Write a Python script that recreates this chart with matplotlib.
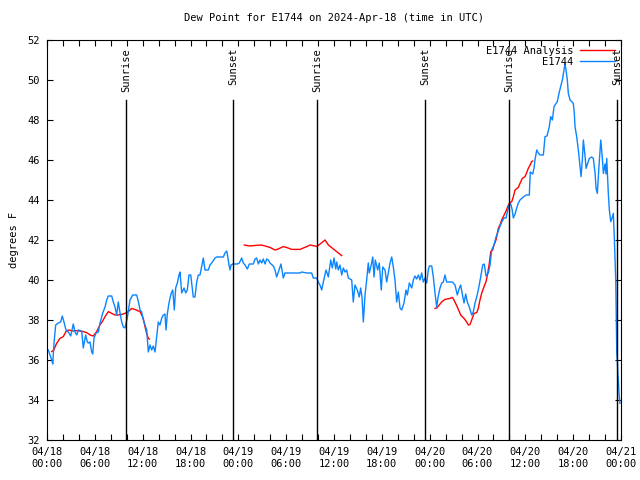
import datetime as dt
import matplotlib
matplotlib.use("Agg")
import matplotlib.pyplot as plt
import matplotlib.dates as mdates

# hours after 2024-04-18 00:00 UTC
obs_hours = [0.16, 0.38, 0.59, 0.72, 0.88, 1.09, 1.42, 1.72, 1.92, 2.13, 2.38, 2.67, 2.97, 3.30,
             3.51, 3.73, 3.93, 4.35, 4.55, 4.85, 5.06, 5.18, 5.39, 5.61, 5.73, 5.90, 6.15, 6.44,
             6.65, 6.99, 7.28, 7.49, 7.69, 8.12, 8.32, 8.53, 8.74, 8.94, 9.16, 9.37, 9.57, 9.78,
             10.07, 10.41, 10.75, 11.25, 11.50, 11.67, 11.88, 12.08, 12.29, 12.51, 12.63, 12.71,
             12.92, 13.13, 13.33, 13.55, 13.76, 13.96, 14.17, 14.39, 14.59, 14.80, 14.93, 15.09,
             15.30, 15.55, 15.77, 15.97, 16.14, 16.35, 16.56, 16.68, 16.90, 17.19, 17.40, 17.60,
             17.81, 18.03, 18.35, 18.56, 18.78, 18.98, 19.19, 19.61, 19.82, 20.23, 20.45, 20.66,
             21.07, 21.28, 22.12, 22.33, 22.54, 22.66, 22.83, 22.96, 23.08, 23.29, 23.87, 24.12,
             24.42, 24.62, 24.84, 25.13, 25.38, 25.88, 26.09, 26.30, 26.51, 26.72, 26.93, 27.13,
             27.35, 27.56, 27.76, 27.97, 28.39, 28.60, 28.81, 29.02, 29.23, 29.35, 29.52, 29.64,
             29.85, 30.27, 31.74, 31.95, 32.58, 33.20, 33.40, 33.83, 34.03, 34.24, 34.46, 34.66,
             35.00, 35.29, 35.59, 35.79, 36.00, 36.22, 36.34, 36.54, 36.75, 36.97, 37.17, 37.38,
             37.59, 37.80, 38.22, 38.42, 38.63, 38.92, 39.17, 39.34, 39.51, 39.68, 39.89, 40.10,
             40.30, 40.43, 40.64, 40.86, 41.02, 41.18, 41.48, 41.68, 41.93, 42.11, 42.40, 42.61,
             42.81, 43.03, 43.24, 43.44, 43.65, 43.86, 44.07, 44.28, 44.49, 44.78, 45.03, 45.20,
             45.45, 45.75, 45.95, 46.16, 46.37, 46.58, 46.79, 47.00, 47.20, 47.42, 47.63, 47.83,
             47.96, 48.26, 48.46, 48.67, 48.88, 49.08, 49.30, 49.51, 49.71, 49.92, 50.13, 50.55,
             50.84, 51.18, 51.47, 51.72, 51.89, 52.09, 52.31, 52.52, 52.72, 52.97, 53.27, 53.47,
             53.69, 53.90, 54.10, 54.40, 54.65, 54.85, 55.07, 55.36, 55.57, 55.78, 56.07, 56.32,
             56.48, 56.74, 57.04, 57.33, 57.58, 57.74, 57.99, 58.17, 58.33, 58.50, 58.71, 58.92,
             59.12, 59.33, 59.75, 60.09, 60.50, 60.62, 60.92, 61.09, 61.21, 61.43, 61.63, 61.84,
             62.26, 62.47, 62.72, 63.01, 63.18, 63.39, 63.60, 63.81, 64.01, 64.22, 64.44, 64.64,
             64.85, 64.97, 65.10, 65.27, 65.39, 65.61, 65.82, 66.02, 66.15, 66.23, 66.44, 66.65,
             66.86, 66.99, 67.15, 67.28, 67.49, 67.62, 67.83, 68.03, 68.33, 68.53, 68.75, 68.87,
             69.03, 69.24, 69.46, 69.66, 69.79, 70.00, 70.12, 70.21, 70.41, 70.54, 70.71, 70.88,
             71.04, 71.17, 71.34, 71.47, 71.54, 71.60, 71.67, 71.75, 71.87]
obs_dewpt = [36.5, 36.25, 36.0, 35.8, 36.85, 37.75, 37.85, 37.9, 38.2, 37.9, 37.5, 37.4, 37.2, 37.8,
             37.4, 37.25, 37.5, 37.45, 36.6, 37.25, 36.9, 36.85, 36.9, 36.4, 36.3, 37.1, 37.35, 37.4,
             37.85, 38.35, 38.65, 39.0, 39.2, 39.2, 38.9, 38.65, 38.25, 38.9, 38.35, 37.9, 37.65, 37.6,
             38.1, 39.0, 39.25, 39.25, 38.85, 38.5, 38.4, 38.0, 37.75, 37.5, 36.85, 36.4,
             36.75, 36.5, 36.7, 36.4, 37.15, 37.9, 37.75, 38.1, 38.25, 38.3, 37.5, 38.3,
             38.85, 39.3, 39.5, 38.5, 39.6, 39.85, 40.25, 40.4, 39.35, 39.6, 39.35, 39.5,
             40.25, 40.25, 39.15, 39.15, 39.9, 40.25, 40.25, 41.1, 40.5, 40.5, 40.75, 40.85,
             41.1, 41.15, 41.15, 41.35, 41.45, 41.2, 40.75, 40.5, 40.75, 40.8, 40.8, 40.85,
             41.1, 40.85, 40.75, 40.55, 40.8, 40.8, 41.05, 41.1, 40.8, 41.0, 40.85, 41.05,
             40.8, 41.05, 41.0, 40.85, 40.7, 40.5, 40.15, 40.4, 40.65, 40.8, 40.4, 40.1,
             40.35, 40.35, 40.35, 40.4, 40.35, 40.35, 40.1, 40.1, 39.9, 39.75, 39.5, 39.9,
             40.5, 40.15, 41.0, 40.6, 41.1, 40.55, 40.9, 40.5, 40.75, 40.25, 40.6, 40.4,
             40.5, 40.1, 40.0, 38.9, 39.75, 39.5, 39.15, 39.6, 39.15, 37.9, 39.25, 40.0,
             40.85, 40.35, 40.7, 41.15, 40.15, 41.0, 40.5, 40.85, 39.5, 40.65, 40.5, 39.9,
             40.35, 40.85, 41.15, 40.65, 40.0, 38.9, 39.4, 38.6, 38.5, 38.85, 39.5, 39.25,
             39.85, 39.6, 40.0, 40.2, 40.05, 40.25, 40.0, 40.35, 39.9, 40.1, 39.85, 40.5,
             40.7, 40.7, 40.15, 39.35, 38.65, 39.2, 39.6, 39.85, 39.9, 40.25, 39.9, 39.9,
             39.9, 39.75, 39.25, 39.6, 39.75, 39.3, 38.85, 39.3, 38.9, 38.65, 38.25, 38.4,
             38.85, 39.15, 39.5, 40.15, 40.75, 40.8, 40.2, 40.35, 40.75, 41.5, 41.75, 42.15,
             42.3, 42.6, 42.9, 43.1, 43.1, 43.4, 43.75, 43.8, 43.55, 43.1, 43.3, 43.6,
             43.85, 44.0, 44.15, 44.25, 44.25, 45.4, 45.3, 45.6, 46.0, 46.5, 46.35, 46.25,
             46.25, 47.17, 47.2, 47.67, 48.17, 48.0, 48.67, 48.8, 48.92, 49.33, 49.67, 50.0,
             50.5, 50.83, 50.5, 50.0, 49.33, 49.0, 48.92, 48.83, 48.3, 47.67, 47.17, 46.5,
             45.67, 45.17, 46.0, 47.0, 46.2, 45.58, 45.85, 46.08, 46.15, 46.08, 45.33, 44.58,
             44.33, 45.7, 47.0, 46.1, 45.33, 45.8, 45.3, 46.08, 44.33, 43.5, 42.92, 43.1,
             43.33, 42.0, 40.0, 36.33, 36.0, 35.33, 35.0, 34.33, 33.83]

# analysis, three separate pieces
ana_hours_1 = [0.58, 0.85, 1.20, 1.62, 2.04, 2.38, 2.67, 3.30, 3.72, 4.55, 4.98, 5.40, 5.81, 6.23,
               6.65, 6.98, 7.28, 7.70, 8.12, 8.53, 8.95, 9.37, 9.78, 10.20, 10.62, 11.03, 11.35,
               11.67, 12.08, 12.29, 12.50, 12.71, 12.85]
ana_dewpt_1 = [36.42, 36.5, 36.83, 37.08, 37.17, 37.42, 37.5, 37.45, 37.47, 37.42, 37.37, 37.25, 37.2,
               37.42, 37.75, 37.95, 38.17, 38.42, 38.33, 38.25, 38.25, 38.28, 38.33, 38.42, 38.58,
               38.53, 38.47, 38.42, 38.08, 37.67, 37.33, 37.08, 37.05]
ana_hours_2 = [24.75, 25.4, 26.2, 26.9, 27.35, 27.97, 28.6, 29.0, 29.64, 30.1, 30.7, 31.74, 32.58,
               33.0, 33.6, 33.83, 34.35, 34.88, 35.3, 35.83, 36.33, 36.96]
ana_dewpt_2 = [41.75, 41.7, 41.73, 41.75, 41.7, 41.63, 41.5, 41.55, 41.67, 41.62, 41.53, 41.53, 41.67,
               41.75, 41.7, 41.67, 41.83, 42.0, 41.75, 41.58, 41.42, 41.22]
ana_hours_3 = [48.67, 48.9, 49.5, 49.92, 50.55, 50.84, 51.05, 51.47, 51.89, 52.31, 52.61, 52.86,
               53.05, 53.27, 53.56, 53.9, 54.1, 54.31, 54.52, 54.85, 55.07, 55.28, 55.48, 55.66,
               55.9, 56.07, 56.32, 56.61, 56.82, 57.03, 57.24, 57.55, 57.79, 57.99, 58.3, 58.5,
               58.71, 59.12, 59.33, 59.62, 59.96, 60.17, 60.37, 60.6, 60.79, 60.92]
ana_dewpt_3 = [38.58, 38.6, 38.9, 39.03, 39.08, 39.13, 39.0, 38.65, 38.25, 38.08, 37.92, 37.75,
               37.77, 38.0, 38.33, 38.37, 38.58, 39.0, 39.33, 39.7, 39.92, 40.33, 40.83, 41.42,
               41.5, 41.75, 42.0, 42.58, 42.75, 43.0, 43.17, 43.42, 43.67, 43.83, 43.92, 44.17,
               44.5, 44.63, 44.83, 45.08, 45.17, 45.37, 45.58, 45.75, 45.92, 45.95]

sun_labels = ["Sunrise", "Sunset", "Sunrise", "Sunset", "Sunrise", "Sunset"]
sun_hours = [9.93, 23.35, 33.9, 47.45, 57.98, 71.55]

start = dt.datetime(2024, 4, 18)


def to_time(hours):
    return [start + dt.timedelta(hours=h) for h in hours]


plt.rcParams["font.family"] = "DejaVu Sans Mono"
plt.rcParams["font.size"] = 7.5

fig = plt.figure(figsize=(6.4, 4.8), dpi=100)
ax = fig.add_axes([47 / 640, 40 / 480, 574 / 640, 400 / 480])

red = "#ff0000"
blue = "#0a84ff"

ax.plot(to_time(ana_hours_1), ana_dewpt_1, color=red, lw=1, label="E1744 Analysis")
ax.plot(to_time(ana_hours_2), ana_dewpt_2, color=red, lw=1)
ax.plot(to_time(ana_hours_3), ana_dewpt_3, color=red, lw=1)
ax.plot(to_time(obs_hours), obs_dewpt, color=blue, lw=1, label="E1744")

for lab, t in zip(sun_labels, to_time(sun_hours)):
    ax.plot([t, t], [32, 49.0], color="black", lw=1)
    ax.text(t, 51.6, lab, rotation=90, ha="center", va="top", fontsize=7.5)

ax.set_xlim(start, start + dt.timedelta(hours=72))
ax.set_ylim(32, 52)
ax.set_yticks(range(32, 53, 2))
ax.xaxis.set_major_locator(mdates.HourLocator(byhour=range(0, 24, 6)))
ax.xaxis.set_minor_locator(mdates.HourLocator(byhour=range(0, 24, 2)))
ax.xaxis.set_major_formatter(mdates.DateFormatter("%m/%d\n%H:%M"))
ax.tick_params(which="both", direction="in", top=True, right=True, length=4, width=0.8)
ax.tick_params(axis="both", labelsize=7.5, pad=5)

ax.set_title("Dew Point for E1744 on 2024-Apr-18 (time in UTC)", fontsize=7.5, pad=14)
ax.set_ylabel("degrees F", fontsize=7.5, labelpad=6)

ax.legend(loc="upper right", frameon=False, markerfirst=False, handlelength=3.4,
          fontsize=7.5, borderaxespad=0.15, labelspacing=0.1, handletextpad=0.6)

fig.savefig("out.png", dpi=100)
